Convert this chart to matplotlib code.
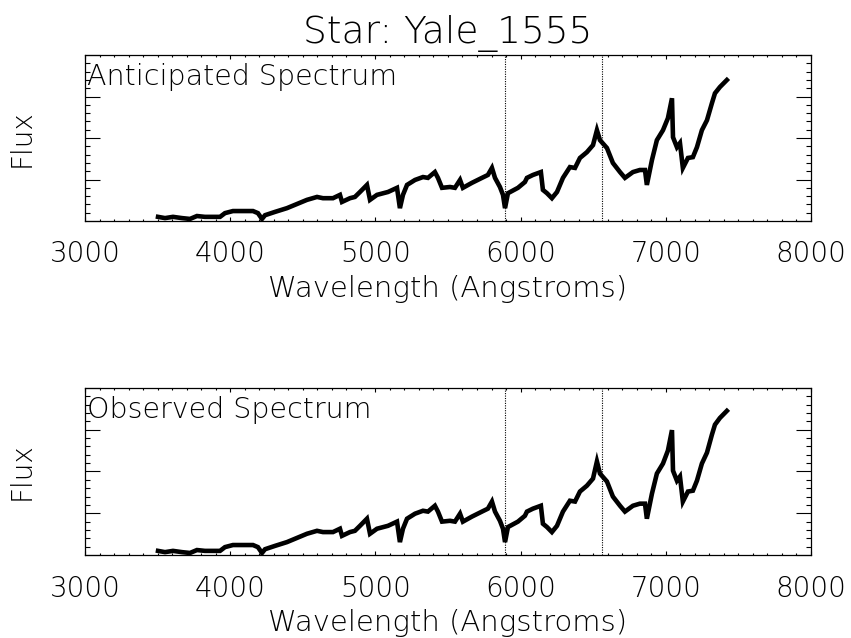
import numpy as np
import matplotlib
matplotlib.use('Agg')
import matplotlib.pyplot as plt
from matplotlib.ticker import MultipleLocator, NullFormatter

plt.rcParams['font.family'] = ['DejaVu Sans']
plt.rcParams['font.weight'] = 'light'
plt.rcParams['axes.titleweight'] = 'light'
plt.rcParams['axes.labelweight'] = 'light'

star_name = 'Yale_1555'
line_positions = [5893, 6563]   # Na D and H-alpha

wavelength = [3503, 3551, 3606, 3668, 3723, 3771, 3826, 3930, 3964, 4019,
              4088, 4157, 4191, 4219, 4240, 4309, 4391, 4460, 4529, 4598,
              4639, 4708, 4756, 4770, 4825, 4859, 4894, 4942, 4963, 5011,
              5087, 5149, 5169, 5190, 5218, 5273, 5328, 5362, 5410, 5431,
              5459, 5514, 5548, 5583, 5603, 5665, 5734, 5775, 5803, 5824,
              5858, 5879, 5893, 5913, 5982, 6030, 6044, 6085, 6140, 6154,
              6182, 6216, 6251, 6292, 6340, 6375, 6409, 6457, 6499, 6526,
              6547, 6595, 6636, 6685, 6719, 6774, 6822, 6857, 6870, 6905,
              6939, 6981, 7015, 7043, 7050, 7077, 7098, 7118, 7153, 7187,
              7215, 7249, 7284, 7318, 7339, 7373, 7421]

anticipated_flux = [0.10, 0.07, 0.10, 0.07, 0.05, 0.12, 0.10, 0.10, 0.19, 0.24,
                    0.24, 0.24, 0.19, 0.05, 0.14, 0.22, 0.31, 0.41, 0.51, 0.58,
                    0.55, 0.55, 0.63, 0.46, 0.55, 0.58, 0.70, 0.87, 0.51, 0.63,
                    0.70, 0.80, 0.31, 0.63, 0.87, 0.99, 1.06, 1.04, 1.18, 1.04,
                    0.80, 0.82, 0.80, 0.99, 0.80, 0.92, 1.04, 1.11, 1.28, 1.04,
                    0.82, 0.63, 0.31, 0.67, 0.80, 0.94, 1.04, 1.11, 1.18, 0.75,
                    0.67, 0.55, 0.70, 1.04, 1.30, 1.28, 1.52, 1.66, 1.83, 2.19,
                    1.95, 1.76, 1.40, 1.18, 1.04, 1.18, 1.23, 1.23, 0.87, 1.47,
                    1.95, 2.19, 2.48, 2.96, 2.02, 1.78, 1.88, 1.28, 1.52, 1.54,
                    1.78, 2.19, 2.43, 2.84, 3.08, 3.23, 3.40]

observed_flux = [0.10, 0.07, 0.10, 0.07, 0.05, 0.12, 0.10, 0.10, 0.19, 0.24,
                 0.24, 0.24, 0.19, 0.05, 0.14, 0.22, 0.31, 0.41, 0.51, 0.58,
                 0.55, 0.55, 0.63, 0.46, 0.55, 0.58, 0.70, 0.87, 0.51, 0.63,
                 0.70, 0.80, 0.31, 0.63, 0.87, 0.99, 1.06, 1.04, 1.18, 1.04,
                 0.80, 0.82, 0.80, 0.99, 0.80, 0.92, 1.04, 1.11, 1.28, 1.04,
                 0.82, 0.63, 0.31, 0.67, 0.80, 0.94, 1.04, 1.11, 1.18, 0.75,
                 0.67, 0.55, 0.70, 1.04, 1.30, 1.28, 1.52, 1.66, 1.83, 2.24,
                 1.95, 1.76, 1.40, 1.18, 1.04, 1.18, 1.23, 1.23, 0.87, 1.47,
                 1.95, 2.19, 2.50, 2.99, 2.02, 1.78, 1.88, 1.28, 1.52, 1.54,
                 1.78, 2.19, 2.45, 2.88, 3.12, 3.28, 3.45]

fig = plt.figure(figsize=(8.51, 6.38), dpi=100)
ax1 = fig.add_axes([0.0999, 0.6536, 0.853, 0.260])
ax2 = fig.add_axes([0.0999, 0.1300, 0.853, 0.262])

panels = [(ax1, anticipated_flux, 'Anticipated Spectrum'),
          (ax2, observed_flux, 'Observed Spectrum')]

for ax, flux, label in panels:
    ax.plot(wavelength, flux, color='black', linewidth=3.3, solid_joinstyle='miter')
    for lp in line_positions:
        ax.axvline(lp, color='black', linewidth=0.8, linestyle=(0, (1, 1.2)))
    ax.set_xlim(3000, 8000)
    ax.set_ylim(0, 4)
    ax.xaxis.set_major_locator(MultipleLocator(1000))
    ax.xaxis.set_minor_locator(MultipleLocator(100))
    ax.yaxis.set_major_locator(MultipleLocator(1))
    ax.yaxis.set_minor_locator(MultipleLocator(0.2))
    ax.yaxis.set_major_formatter(NullFormatter())
    ax.tick_params(axis='both', which='both', direction='in',
                   top=True, right=True, color='black')
    ax.tick_params(axis='x', which='major', length=2.6, width=0.8,
                   labelsize=20, pad=14)
    ax.tick_params(axis='x', which='minor', length=1.4, width=0.8)
    ax.tick_params(axis='y', which='major', length=10.5, width=0.8)
    ax.tick_params(axis='y', which='minor', length=3.8, width=0.8)
    for s in ax.spines.values():
        s.set_linewidth(0.9)
    ax.set_xlabel('Wavelength (Angstroms)', fontsize=21, labelpad=5)
    ax.set_ylabel('Flux', fontsize=20, labelpad=32)
    ax.text(0.003, 0.95, label, transform=ax.transAxes, fontsize=20.5,
            ha='left', va='top')

ax1.set_title('Star: ' + star_name, fontsize=27, pad=9)

fig.savefig('out.png', dpi=100)
